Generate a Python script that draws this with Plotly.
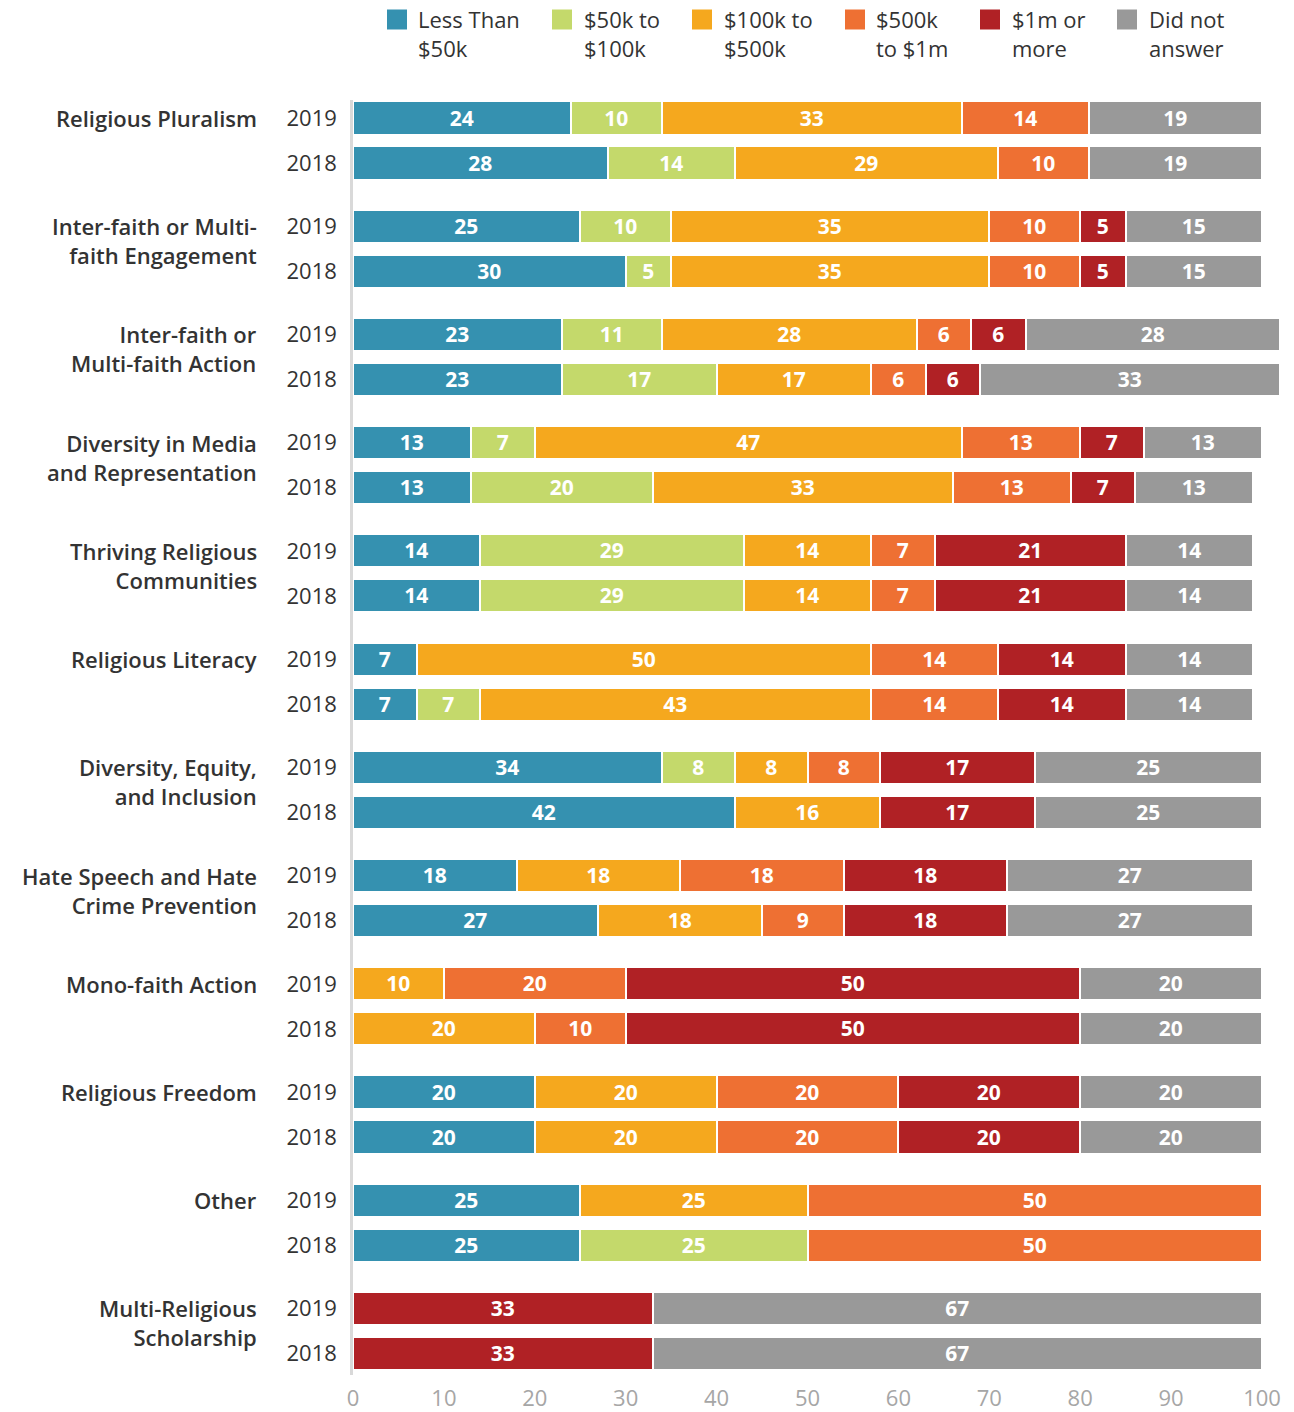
import plotly.graph_objects as go

# Focus areas, each shown for 2019 (top bar) and 2018 (bottom bar)
categories = [
    "Religious Pluralism",
    "Inter-faith or Multi-<br>faith Engagement",
    "Inter-faith or<br>Multi-faith Action",
    "Diversity in Media<br>and Representation",
    "Thriving Religious<br>Communities",
    "Religious Literacy",
    "Diversity, Equity,<br>and Inclusion",
    "Hate Speech and Hate<br>Crime Prevention",
    "Mono-faith Action",
    "Religious Freedom",
    "Other",
    "Multi-Religious<br>Scholarship",
]
years = ["2019", "2018"]

# Share of respondents per budget band, ordered [cat1 2019, cat1 2018, cat2 2019, ...]
less_than_50k = [24, 28, 25, 30, 23, 23, 13, 13, 14, 14, 7, 7,
                 34, 42, 18, 27, None, None, 20, 20, 25, 25, None, None]
k50_to_100k = [10, 14, 10, 5, 11, 17, 7, 20, 29, 29, None, 7,
               8, None, None, None, None, None, None, None, None, 25, None, None]
k100_to_500k = [33, 29, 35, 35, 28, 17, 47, 33, 14, 14, 50, 43,
                8, 16, 18, 18, 10, 20, 20, 20, 25, None, None, None]
k500k_to_1m = [14, 10, 10, 10, 6, 6, 13, 13, 7, 7, 14, 14,
               8, None, 18, 9, 20, 10, 20, 20, 50, 50, None, None]
m1_or_more = [None, None, 5, 5, 6, 6, 7, 7, 21, 21, 14, 14,
              17, 17, 18, 18, 50, 50, 20, 20, None, None, 33, 33]
did_not_answer = [19, 19, 15, 15, 28, 33, 13, 13, 14, 14, 14, 14,
                  25, 25, 27, 27, 20, 20, 20, 20, None, None, 67, 67]

series_names = ["Less Than<br>$50k", "$50k to<br>$100k", "$100k to<br>$500k",
                "$500k<br>to $1m", "$1m or<br>more", "Did not<br>answer"]
series_values = [less_than_50k, k50_to_100k, k100_to_500k,
                 k500k_to_1m, m1_or_more, did_not_answer]
colors = ["#3591b0", "#c4d96b", "#f5a81e", "#ee7033", "#b02125", "#999999"]

FONT = "Open Sans"
DARK = "#333333"

# Vertical layout: each focus area takes ~2.4 units, the two years 1 unit apart
GROUP_STEP = 2.405
positions = []
year_labels = []
for i in range(len(categories)):
    for j, yr in enumerate(years):
        positions.append(i * GROUP_STEP + j)
        year_labels.append(yr)

# Figure geometry in pixels
W_PX, H_PX = 1294, 1412
L, R_M, T, B_M = 353, 8, 100, 37
plot_w = W_PX - L - R_M
plot_h = H_PX - T - B_M
x_max = plot_w / 9.09
y_top = -0.4
y_bot = y_top + plot_h / 45.0


def px_x(px):
    return (px - L) / plot_w


def px_y(py):
    return (T + plot_h - py) / plot_h


fig = go.Figure()
for name, vals, col in zip(series_names, series_values, colors):
    fig.add_trace(go.Bar(
        y=positions,
        x=vals,
        orientation="h",
        name=name.replace("<br>", " "),
        width=0.735,
        marker=dict(color=col, line=dict(color="white", width=2.5)),
        text=[("" if v is None else str(v)) for v in vals],
        textposition="inside",
        insidetextanchor="middle",
        textangle=0,
        constraintext="none",
        textfont=dict(family=FONT, size=21, color="white", weight=700),
        showlegend=False,
    ))

# Focus-area labels to the left of the year labels
annotations = []
for i, cat in enumerate(categories):
    annotations.append(dict(
        x=0, xref="paper", xanchor="right", xshift=-94,
        y=i * GROUP_STEP, yref="y", yanchor="top", yshift=17,
        text=cat, showarrow=False, align="right",
        font=dict(family=FONT, size=22, color=DARK, weight=600),
    ))

# Legend across the top: colour swatch followed by a two-line label
legend_square_px = [387, 552, 692, 845, 980, 1117]
legend_text_px = [418, 584, 724, 876, 1012, 1149]
for name, col, sx, tx in zip(series_names, colors, legend_square_px, legend_text_px):
    fig.add_shape(
        type="rect", xref="paper", yref="paper",
        x0=px_x(sx), x1=px_x(sx + 20), y0=px_y(29.5), y1=px_y(9.5),
        fillcolor=col, line=dict(width=0),
    )
    annotations.append(dict(
        x=px_x(tx - 2), xref="paper", xanchor="left",
        y=px_y(2), yref="paper", yanchor="top",
        text=name, showarrow=False, align="left",
        font=dict(family=FONT, size=22, color=DARK),
    ))

fig.update_layout(
    width=W_PX, height=H_PX,
    margin=dict(l=L, r=R_M, t=T, b=B_M),
    paper_bgcolor="white", plot_bgcolor="white",
    barmode="stack",
    bargap=0,
    annotations=annotations,
    xaxis=dict(
        range=[0, x_max], tickvals=list(range(0, 101, 10)),
        showgrid=False, zeroline=False, showline=False,
        ticks="", ticklabelstandoff=8, automargin=False,
        tickfont=dict(family=FONT, size=22, color="#a6a6a6"),
    ),
    yaxis=dict(
        range=[y_bot, y_top], tickvals=positions, ticktext=year_labels,
        showgrid=False, zeroline=False, automargin=False,
        showline=True, linecolor="#d9d9d9", linewidth=2.5,
        ticks="outside", ticklen=9, tickcolor="rgba(0,0,0,0)",
        tickfont=dict(family=FONT, size=22, color=DARK),
    ),
    font=dict(family=FONT, color=DARK),
)

fig.write_html("out.html")
